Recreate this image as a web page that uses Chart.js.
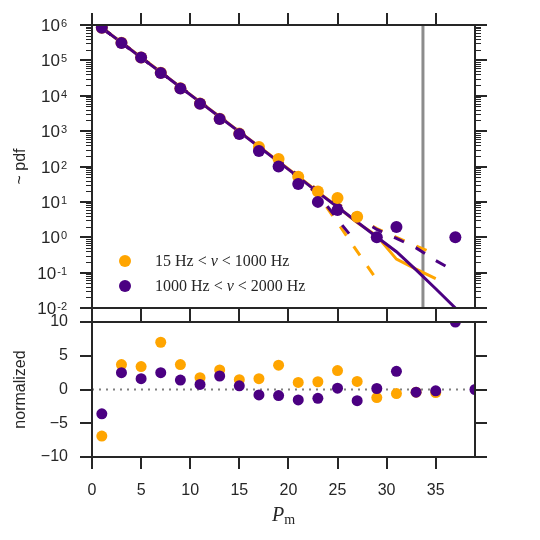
<!DOCTYPE html>
<html lang="en">
<head>
<meta charset="UTF-8" />
<title>P_m distribution</title>
<style>
  body { margin: 0; background: #fff; }
  #wrap { position: relative; width: 540px; height: 540px; }
  canvas { position: absolute; left: 0; top: 0; }
</style>
</head>
<body>
<div id="wrap">
  <canvas id="topChart" width="540" height="540"></canvas>
  <canvas id="bottomChart" width="540" height="540"></canvas>
</div>
<script src="https://cdn.jsdelivr.net/npm/chart.js"></script>
<script>
// bins of P_m
const pBins = [1, 3, 5, 7, 9, 11, 13, 15, 17, 19, 21, 23, 25, 27, 29, 31, 33, 35, 37, 39];

// measured pdf (top panel)
const pdfLow  = [8.4e5, 3.15e5, 1.21e5, 4.5e4, 1.62e4, 6.0e3, 2.25e3, 850, 355, 162, 51, 19.5, 12.9, 3.8, null, null, null, null, null, null];
const pdfHigh = [8.3e5, 3.1e5, 1.2e5, 4.4e4, 1.6e4, 5.9e3, 2.2e3, 830, 275, 100, 32, 10, 5.9, null, 1.0, 1.95, null, null, 1.0, null];

// model curves (solid, dashed, steep dashed)
const solidLow   = [8.4e5, 3.2e5, 1.22e5, 4.7e4, 1.76e4, 6.7e3, 2.55e3, 970, 370, 138, 52, 19, 7.3, 2.6, 1.1, 0.24, 0.125, 0.068, null, null];
const solidHigh  = [8.3e5, 3.2e5, 1.2e5, 4.6e4, 1.74e4, 6.6e3, 2.5e3, 955, 363, 135, 51, 18.6, 7.2, 2.7, 1.02, 0.39, 0.12, 0.035, 0.01, null];
const dashedLow  = [8.4e5, 3.2e5, 1.22e5, 4.7e4, 1.78e4, 6.8e3, 2.6e3, 990, 385, 148, 57, 21.5, 9.1, 3.8, 1.75, 1.0, 0.57, 0.33, null, null];
const dashedHigh = [8.3e5, 3.15e5, 1.2e5, 4.6e4, 1.75e4, 6.7e3, 2.55e3, 980, 380, 145, 56, 21, 8.9, 3.7, 1.66, 0.93, 0.5, 0.22, 0.107, null];
const steepLow   = [8.4e5, 3.2e5, 1.22e5, 4.7e4, 1.76e4, 6.7e3, 2.55e3, 965, 365, 138, 50, 16, 2.6, 0.4, 0.063, null, null, null, null, null];
const steepHigh  = [8.3e5, 3.15e5, 1.2e5, 4.6e4, 1.74e4, 6.6e3, 2.5e3, 950, 360, 133, 48, 16.6, 3.2, 0.66, null, null, null, null, null, null];

// normalized residuals (bottom panel)
const normLow  = [-6.9, 3.7, 3.4, 7.0, 3.7, 1.75, 2.9, 1.45, 1.6, 3.6, 1.05, 1.15, 2.8, 1.2, -1.2, -0.6, -0.4, -0.45, null, null];
const normHigh = [-3.6, 2.5, 1.6, 2.5, 1.4, 0.75, 2.0, 0.55, -0.8, -0.9, -1.55, -1.3, 0.2, -1.65, 0.15, 2.7, -0.4, -0.2, 10, 0];

const cutoffP = 33.7;
const xRange = [0, 39];
const xTicks = [0, 5, 10, 15, 20, 25, 30, 35];
const yDecades = [-2, -1, 0, 1, 2, 3, 4, 5, 6];
const normTicks = [-10, -5, 0, 5, 10];
const legendRows = [
  { label: ['15 Hz < ', 'ν', ' < 1000 Hz'] },
  { label: ['1000 Hz < ', 'ν', ' < 2000 Hz'] }
];

const FRAME = '#262626';
const ORANGE = '#FFA500';
const PURPLE = '#4B0082';
const SANS = "'Liberation Sans', Arial, sans-serif";
const SERIF = "'Liberation Serif', 'Times New Roman', serif";

Chart.defaults.font.family = SANS;
Chart.defaults.color = FRAME;

function pts(ys) {
  return pBins.map((x, i) => ({ x: x, y: ys[i] })).filter(p => p.y !== null);
}

function edgeAxis(type, position, min, max, size, tickValues) {
  return {
    type: type, position: position, min: min, max: max,
    afterBuildTicks: s => { s.ticks = tickValues.map(v => ({ value: v })); },
    afterFit: s => { if (s.isHorizontal()) s.height = size; else s.width = size; },
    ticks: { display: false },
    grid: { drawOnChartArea: false, drawTicks: true, tickLength: 12, color: FRAME, lineWidth: 2 },
    border: { display: true, color: FRAME, width: 2, z: 1 }
  };
}

function curve(ys, color, dash) {
  return {
    data: pts(ys), showLine: true, borderColor: color, borderWidth: 3,
    borderDash: dash || [], pointRadius: 0, fill: false, clip: 0
  };
}

function dots(ys, color, r) {
  return {
    data: pts(ys), showLine: false, pointRadius: r, pointHoverRadius: r,
    backgroundColor: color, borderWidth: 0, clip: 0
  };
}

const majorValues = yDecades.map(e => Math.pow(10, e));

// minor log ticks, 10^n labels and legend for the top panel
const topDecor = {
  id: 'topDecor',
  afterDraw(chart) {
    const { ctx, chartArea, scales } = chart;
    const y = scales.y;
    ctx.save();
    ctx.strokeStyle = FRAME;
    ctx.lineWidth = 1;
    for (let e = yDecades[0]; e < yDecades[yDecades.length - 1]; e++) {
      for (let m = 2; m < 10; m++) {
        const py = Math.round(y.getPixelForValue(m * Math.pow(10, e))) + 0.5;
        ctx.beginPath();
        ctx.moveTo(chartArea.left - 6, py); ctx.lineTo(chartArea.left, py);
        ctx.moveTo(chartArea.right, py); ctx.lineTo(chartArea.right + 6, py);
        ctx.stroke();
      }
    }
    ctx.fillStyle = FRAME;
    ctx.textBaseline = 'alphabetic';
    ctx.textAlign = 'left';
    const right = chartArea.left - 25;
    yDecades.forEach(e => {
      const py = y.getPixelForValue(Math.pow(10, e));
      const sup = String(e);
      ctx.font = '11px ' + SANS;
      const ws = ctx.measureText(sup).width;
      ctx.font = '17px ' + SANS;
      const wb = ctx.measureText('10').width;
      ctx.fillText('10', right - ws - 1 - wb, py + 6);
      ctx.font = '11px ' + SANS;
      ctx.fillText(sup, right - ws, py + 2);
    });
    // legend
    const colors = [ORANGE, PURPLE];
    const rowY = [261, 286];
    legendRows.forEach((row, i) => {
      ctx.fillStyle = colors[i];
      ctx.beginPath();
      ctx.arc(125, rowY[i], 6, 0, Math.PI * 2);
      ctx.fill();
      ctx.fillStyle = FRAME;
      let x = 155;
      row.label.forEach((part, j) => {
        ctx.font = (j === 1 ? 'italic ' : '') + '16px ' + SERIF;
        ctx.fillText(part, x, rowY[i] + 5);
        x += ctx.measureText(part).width;
      });
    });
    ctx.restore();
  }
};

// x-axis label P_m
const bottomDecor = {
  id: 'bottomDecor',
  afterDraw(chart) {
    const { ctx, chartArea } = chart;
    ctx.save();
    ctx.fillStyle = FRAME;
    ctx.textBaseline = 'alphabetic';
    ctx.textAlign = 'left';
    ctx.font = 'italic 20px ' + SERIF;
    const wP = ctx.measureText('P').width;
    ctx.font = '14px ' + SERIF;
    const wm = ctx.measureText('m').width;
    const x0 = (chartArea.left + chartArea.right) / 2 - (wP + wm) / 2;
    ctx.font = 'italic 20px ' + SERIF;
    ctx.fillText('P', x0, 521);
    ctx.font = '14px ' + SERIF;
    ctx.fillText('m', x0 + wP, 524);
    ctx.restore();
  }
};

const commonOptions = {
  responsive: false,
  animation: false,
  devicePixelRatio: 1,
  layout: { padding: 0 },
  plugins: { legend: { display: false }, tooltip: { enabled: false } }
};

new Chart(document.getElementById('topChart'), {
  type: 'scatter',
  data: {
    datasets: [
      dots(pdfHigh, PURPLE, 6),
      dots(pdfLow, ORANGE, 6),
      curve(solidHigh, PURPLE),
      curve(dashedHigh, PURPLE, [11, 13]),
      curve(steepHigh, PURPLE, [11, 13]),
      curve(solidLow, ORANGE),
      curve(dashedLow, ORANGE, [11, 13]),
      curve(steepLow, ORANGE, [11, 13]),
      {
        data: [{ x: cutoffP, y: 1e-2 }, { x: cutoffP, y: 1e6 }],
        showLine: true, borderColor: '#8c8c8c', borderWidth: 3, pointRadius: 0, clip: 0
      }
    ]
  },
  options: Object.assign({}, commonOptions, {
    scales: {
      x: edgeAxis('linear', 'bottom', xRange[0], xRange[1], 540 - 308, xTicks),
      xTop: edgeAxis('linear', 'top', xRange[0], xRange[1], 25, xTicks),
      y: Object.assign(edgeAxis('logarithmic', 'left', 1e-2, 1e6, 92, majorValues), {
        title: { display: true, text: '~ pdf', color: FRAME, font: { size: 16 }, padding: { top: 11, bottom: 0 } }
      }),
      yRight: edgeAxis('logarithmic', 'right', 1e-2, 1e6, 65, majorValues)
    }
  }),
  plugins: [topDecor]
});

const xBottom = edgeAxis('linear', 'bottom', xRange[0], xRange[1], 540 - 457, xTicks);
xBottom.ticks = { display: true, color: FRAME, font: { size: 16 }, padding: 12, maxRotation: 0, autoSkip: false };
const yLeft = edgeAxis('linear', 'left', -10, 10, 92, normTicks);
yLeft.ticks = {
  display: true, color: FRAME, font: { size: 16 }, padding: 12,
  callback: v => (v < 0 ? '\u2212' + Math.abs(v) : String(v))
};
yLeft.title = { display: true, text: 'normalized', color: FRAME, font: { size: 16 }, padding: { top: 11, bottom: 0 } };

new Chart(document.getElementById('bottomChart'), {
  type: 'scatter',
  data: {
    datasets: [
      dots(normHigh, PURPLE, 5.5),
      dots(normLow, ORANGE, 5.5),
      {
        data: [{ x: xRange[0], y: 0 }, { x: xRange[1], y: 0 }],
        showLine: true, borderColor: '#808080', borderWidth: 2, borderDash: [2, 5], pointRadius: 0, clip: 0
      }
    ]
  },
  options: Object.assign({}, commonOptions, {
    scales: {
      x: xBottom,
      xTop: edgeAxis('linear', 'top', xRange[0], xRange[1], 322, xTicks),
      y: yLeft,
      yRight: edgeAxis('linear', 'right', -10, 10, 65, normTicks)
    }
  }),
  plugins: [bottomDecor]
});
</script>
</body>
</html>
